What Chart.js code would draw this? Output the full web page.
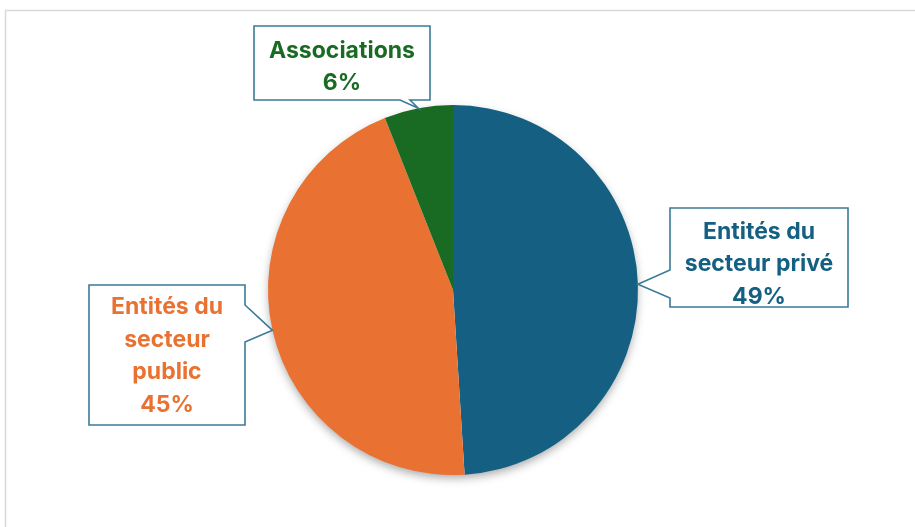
<!DOCTYPE html>
<html>
<head>
<meta charset="utf-8">
<script src="https://cdn.jsdelivr.net/npm/chart.js@4.4.1/dist/chart.umd.min.js"></script>
<style>
  html, body { margin: 0; padding: 0; background: #ffffff; }
  #wrap { width: 915px; height: 527px; position: relative; }
</style>
</head>
<body>
<div id="wrap"><canvas id="myChart" width="915" height="527"></canvas></div>
<script>
const categories = ['Entités du secteur privé', 'Entités du secteur public', 'Associations'];
const shares = [49, 45, 6];
const labelLines = [
    ['Entités du', 'secteur privé', '49%'],
    ['Entités du', 'secteur', 'public', '45%'],
    ['Associations', '6%']
];
const sliceColors = ['#156082', '#E97132', '#196B24'];

// callout boxes (layout only): box rect, edge the pointer leaves from, pointer base along that edge, text shift
const calloutBoxes = [
    { x: 670, y: 208, w: 178, h: 99, side: 'left', base: [270, 298], dy: 6 },
    { x: 89, y: 285, w: 156, h: 140, side: 'right', base: [305, 342], dy: 0 },
    { x: 254, y: 26, w: 176, h: 74, side: 'bottom', base: [400, 410], dy: 3 }
];

const framePlugin = {
    id: 'frame',
    beforeDraw(chart) {
        const ctx = chart.ctx;
        ctx.save();
        ctx.strokeStyle = '#d9d9d9';
        ctx.lineWidth = 1.5;
        ctx.strokeRect(5.5, 10.5, 1000, 1000);
        ctx.restore();
    },
    beforeDatasetsDraw(chart) {
        // soft shadow under the pie
        const arc = chart.getDatasetMeta(0).data[0];
        if (!arc) return;
        const ctx = chart.ctx;
        ctx.save();
        ctx.shadowColor = 'rgba(0,0,0,0.35)';
        ctx.shadowBlur = 10;
        ctx.shadowOffsetY = 4;
        ctx.fillStyle = '#ffffff';
        ctx.beginPath();
        ctx.arc(arc.x, arc.y, arc.outerRadius - 1, 0, Math.PI * 2);
        ctx.fill();
        ctx.restore();
    }
};

const calloutPlugin = {
    id: 'callouts',
    afterDatasetsDraw(chart) {
        const ctx = chart.ctx;
        const meta = chart.getDatasetMeta(0);
        meta.data.forEach((arc, i) => {
            const b = calloutBoxes[i];
            const mid = (arc.startAngle + arc.endAngle) / 2;
            const tx = arc.x + Math.cos(mid) * arc.outerRadius;
            const ty = arc.y + Math.sin(mid) * arc.outerRadius;

            ctx.save();
            ctx.beginPath();
            const r = b.x + b.w, btm = b.y + b.h;
            if (b.side === 'left') {
                ctx.moveTo(b.x, b.y);
                ctx.lineTo(r, b.y);
                ctx.lineTo(r, btm);
                ctx.lineTo(b.x, btm);
                ctx.lineTo(b.x, b.base[1]);
                ctx.lineTo(tx, ty);
                ctx.lineTo(b.x, b.base[0]);
            } else if (b.side === 'right') {
                ctx.moveTo(b.x, b.y);
                ctx.lineTo(r, b.y);
                ctx.lineTo(r, b.base[0]);
                ctx.lineTo(tx, ty);
                ctx.lineTo(r, b.base[1]);
                ctx.lineTo(r, btm);
                ctx.lineTo(b.x, btm);
            } else {
                ctx.moveTo(b.x, b.y);
                ctx.lineTo(r, b.y);
                ctx.lineTo(r, btm);
                ctx.lineTo(b.base[1], btm);
                ctx.lineTo(tx, ty);
                ctx.lineTo(b.base[0], btm);
                ctx.lineTo(b.x, btm);
            }
            ctx.closePath();
            ctx.fillStyle = '#ffffff';
            ctx.fill();
            ctx.strokeStyle = '#3b7a98';
            ctx.lineWidth = 1.6;
            ctx.stroke();

            const lines = labelLines[i];
            const lh = 32.5;
            const cy = b.y + b.h / 2 + b.dy;
            ctx.fillStyle = sliceColors[i];
            ctx.font = 'bold 23px Inter, sans-serif';
            ctx.textAlign = 'center';
            ctx.textBaseline = 'middle';
            lines.forEach((t, k) => {
                ctx.fillText(t, b.x + b.w / 2, cy + (k - (lines.length - 1) / 2) * lh + 1);
            });
            ctx.restore();
        });
    }
};

const ctx = document.getElementById('myChart').getContext('2d');
new Chart(ctx, {
    type: 'pie',
    data: {
        labels: categories,
        datasets: [{
            data: shares,
            backgroundColor: sliceColors,
            borderWidth: 0
        }]
    },
    options: {
        responsive: false,
        animation: false,
        layout: {
            padding: { top: 105, bottom: 52, left: 268, right: 277 }
        },
        plugins: {
            legend: { display: false },
            tooltip: { enabled: false }
        }
    },
    plugins: [framePlugin, calloutPlugin]
});
</script>
</body>
</html>
